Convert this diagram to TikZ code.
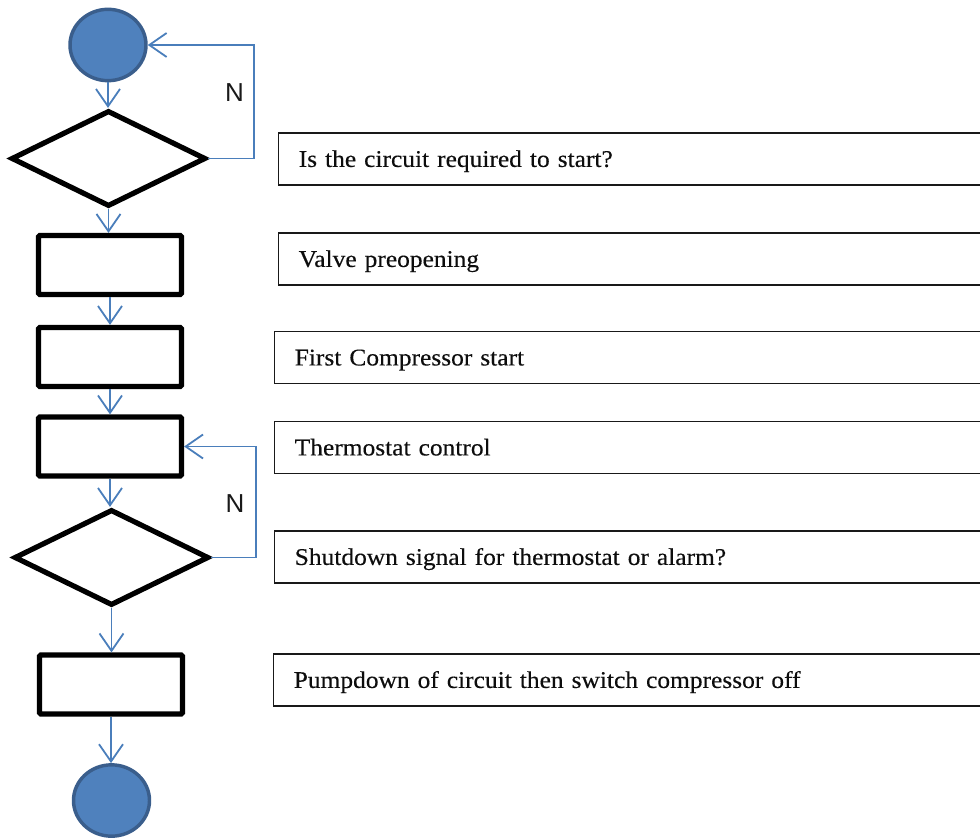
\documentclass[tikz,border=0pt]{standalone}
\usepackage{fontspec}
\setmainfont{Liberation Serif}[FakeStretch=1.06, FakeBold=0.3]
\newfontfamily\nfont{Liberation Sans}
\usetikzlibrary{shapes.geometric,arrows.meta}
\definecolor{cfill}{HTML}{4F81BD}
\definecolor{cedge}{HTML}{3A5E8C}
\definecolor{arrc}{HTML}{4A7EBB}
\tikzset{
  startend/.style={ellipse, fill=cfill, draw=cedge, line width=2.6pt,
    minimum width=57pt, minimum height=53.5pt, inner sep=0pt},
  proc/.style={rectangle, draw=black, line width=3.9pt,
    minimum width=107.25pt, minimum height=44.25pt, inner sep=0pt, rounded corners=1pt},
  decision/.style={diamond, draw=black, line width=3.9pt, aspect=2,
    minimum width=146pt, minimum height=72pt, inner sep=0pt},
  lbl/.style={rectangle, draw=black!90, line width=1.1pt, anchor=west,
    minimum width=540pt, minimum height=39pt, inner xsep=15pt,
    text width=510pt, align=left, text height=11.9pt, text depth=0pt,
    font=\fontsize{18}{21}\selectfont, text=black!95},
  arr/.style={draw=arrc, line width=1.35pt,
    -{Straight Barb[length=13pt, width=18pt, line width=1.35pt]}},
  nlbl/.style={font=\nfont\fontsize{19.5}{22}\selectfont, text=black!90, inner sep=0pt}
}
\begin{document}
\begin{tikzpicture}[x=0.75pt, y=-0.75pt]
\useasboundingbox (0,0) rectangle (980,838);
\clip (0,0) rectangle (980,838);

% flow column
\node[startend] (s) at (108,45) {};
\node[decision] (d1) at (108.5,158.5) {};
\node[proc] (p1) at (110,265) {};
\node[proc] (p2) at (110,357) {};
\node[proc] (p3) at (110,446.5) {};
\node[decision] (d2) at (111.5,557.5) {};
\node[proc] (p4) at (111,684.5) {};
\node[startend] (e) at (111.5,800.5) {};

% label boxes
\node[lbl] (t1) at (278,159) {Is the circuit required to start?};
\node[lbl] (t2) at (278,259) {Valve preopening};
\node[lbl] (t3) at (274,357.5) {First Compressor start};
\node[lbl] (t4) at (274,447.5) {Thermostat control};
\node[lbl] (t5) at (274,557) {Shutdown signal for thermostat or alarm?};
\node[lbl] (t6) at (273,680) {Pumpdown of circuit then switch compressor off};

% arrows
\draw[arr] (s.south) -- (s.south |- d1.north);
\draw[arr] (d1.south) -- (d1.south |- p1.north);
\draw[arr] (p1.south) -- (p1.south |- p2.north);
\draw[arr] (p2.south) -- (p2.south |- p3.north);
\draw[arr] (p3.south) -- (p3.south |- d2.north);
\draw[arr] (d2.south) -- (d2.south |- p4.north);
\draw[arr] (p4.south) -- (p4.south |- e.north);

% loops
\coordinate (l1) at (254,158.5);
\draw[arr] (d1.east) -- (l1) |- (s.east);
\node[nlbl] (n1) at (234.5,92.5) {N};

\coordinate (l2) at (256,557.5);
\draw[arr] (d2.east) -- (l2) |- (p3.east);
\node[nlbl] (n2) at (235,504) {N};
\end{tikzpicture}
\end{document}
